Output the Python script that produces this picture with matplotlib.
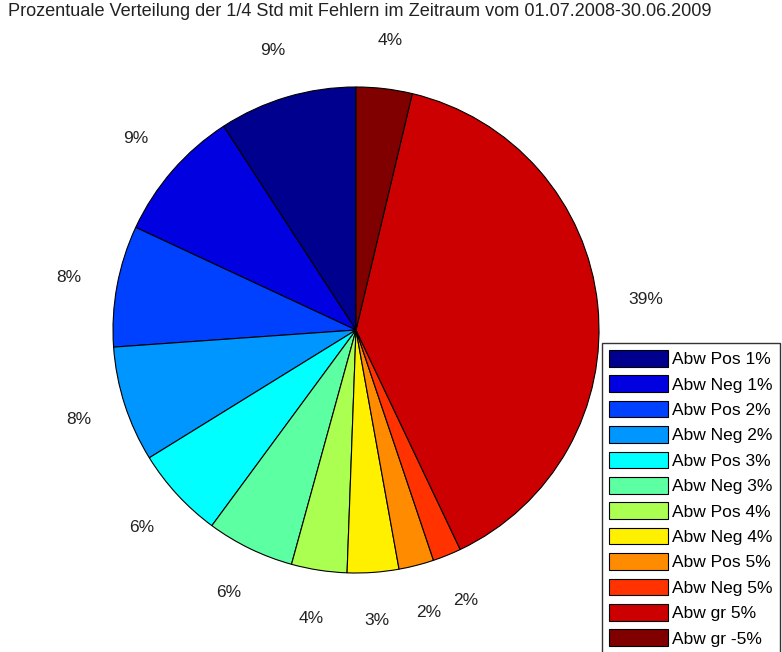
import matplotlib
matplotlib.use("Agg")
import matplotlib.pyplot as plt

# Anteile der Fehlerklassen (in Prozent)
kategorien = ["Abw Pos 1%", "Abw Neg 1%", "Abw Pos 2%", "Abw Neg 2%",
              "Abw Pos 3%", "Abw Neg 3%", "Abw Pos 4%", "Abw Neg 4%",
              "Abw Pos 5%", "Abw Neg 5%", "Abw gr 5%", "Abw gr -5%"]
anteile = [9.17, 8.89, 8.06, 7.69, 6.08, 5.83, 3.69, 3.42, 2.33, 1.89, 39.22, 3.72]

# jet-aehnliche Farbtabelle
farben = ["#00008f", "#0000e0", "#0040ff", "#0096ff",
          "#00ffff", "#5cffa2", "#aaff50", "#fff000",
          "#ff8c00", "#ff3200", "#cc0000", "#800000"]

titel = "Prozentuale Verteilung der 1/4 Std mit Fehlern im Zeitraum vom 01.07.2008-30.06.2009"

plt.rcParams["font.family"] = ["Liberation Sans", "DejaVu Sans"]
schrift = 12.5

fig = plt.figure(figsize=(7.82, 6.52), dpi=100)
W, H = 782, 652
L = 1.3
seite = 2 * L * 243
ax = fig.add_axes([(356 - seite / 2) / W, (H - 330 - seite / 2) / H, seite / W, seite / H])

wedges, texte, prozente = ax.pie(
    anteile, colors=farben, startangle=90, counterclock=True,
    autopct="%1.0f%%", pctdistance=1.2, labels=None,
    wedgeprops=dict(edgecolor="black", linewidth=0.8),
    textprops=dict(fontsize=schrift, color="#222222"))
ax.set_xlim(-L, L)
ax.set_ylim(-L, L)
ax.set_aspect("equal")
ax.axis("off")

fig.text(360 / W, 1 - 12 / H, titel, ha="center", va="center",
         fontsize=13.1, color="#222222")

leg = fig.legend(wedges, kategorien, loc="upper left",
                 bbox_to_anchor=(602 / W, 1 - 343 / H), bbox_transform=fig.transFigure,
                 borderaxespad=0, fontsize=schrift, frameon=True, fancybox=False,
                 handlelength=3.4, handleheight=1.1, labelspacing=0.47,
                 handletextpad=0.25, borderpad=0.4)
leg.get_frame().set_edgecolor("black")
leg.get_frame().set_linewidth(1.0)

fig.savefig("out.png", dpi=100)
